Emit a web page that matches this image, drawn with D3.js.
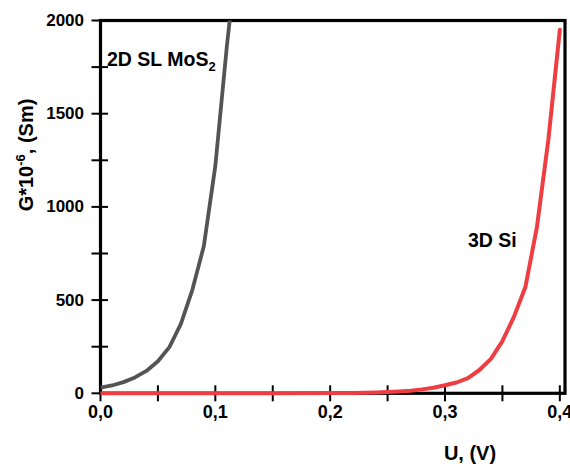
<!DOCTYPE html>
<html>
<head>
<meta charset="utf-8">
<script src="https://cdn.jsdelivr.net/npm/d3@7"></script>
<style>
  html, body { margin: 0; padding: 0; background: #fff; }
  svg { display: block; }
  text { font-family: "Liberation Sans", Arial, sans-serif; font-weight: bold; fill: #000; }
</style>
</head>
<body>
<svg id="chart" width="570" height="464"></svg>
<script>
// Conductance of 2D single-layer MoS2 vs bulk 3D Si as a function of bias
const mosVoltage = [0, 0.01, 0.02, 0.03, 0.04, 0.05, 0.06, 0.07, 0.08, 0.09, 0.10, 0.11, 0.12];
const mosConductance = [30, 42, 60, 85, 120, 172, 248, 372, 555, 790, 1220, 1860, 2420];

const siVoltage = [0, 0.05, 0.10, 0.15, 0.20, 0.21, 0.22, 0.23, 0.24, 0.25, 0.26, 0.27, 0.28, 0.29,
                   0.30, 0.31, 0.32, 0.33, 0.34, 0.35, 0.36, 0.37, 0.38, 0.39, 0.40];
const siConductance = [0, 0.1, 0.2, 0.4, 1, 1.5, 2, 3, 4.5, 7, 10, 14, 21, 30,
                       43, 58, 82, 125, 185, 280, 410, 570, 890, 1360, 1950];

const xTickValues = [0, 0.1, 0.2, 0.3, 0.4];
const xTickLabels = ["0,0", "0,1", "0,2", "0,3", "0,4"];
const xMinorTicks = [0.05, 0.15, 0.25, 0.35];
const yTickValues = [0, 500, 1000, 1500, 2000];
const yMinorTicks = [250, 750, 1250, 1750];

const svg = d3.select("#chart");

const x = d3.scaleLinear().domain([0, 0.4045]).range([100.5, 565]);
const y = d3.scaleLinear().domain([0, 2000]).range([393.3, 20.5]);

// clip for the curves
svg.append("defs").append("clipPath").attr("id", "plotClip")
  .append("rect")
  .attr("x", x(0)).attr("y", y(2000))
  .attr("width", x(0.4045) - x(0)).attr("height", y(0) - y(2000) + 4);

const line = d3.line().x(d => x(d[0])).y(d => y(d[1]));

// frame
svg.append("rect")
  .attr("x", x(0)).attr("y", y(2000))
  .attr("width", x(0.4045) - x(0)).attr("height", y(0) - y(2000))
  .attr("fill", "none").attr("stroke", "#000").attr("stroke-width", 3.2);

// x ticks (crossing the axis)
const xAll = xTickValues.concat(xMinorTicks);
svg.append("g").selectAll("line").data(xAll).join("line")
  .attr("x1", d => x(d)).attr("x2", d => x(d))
  .attr("y1", y(0) - 8).attr("y2", y(0) + 8)
  .attr("stroke", "#000").attr("stroke-width", 2);

svg.append("g").selectAll("text").data(xTickValues).join("text")
  .attr("x", d => x(d)).attr("y", 418)
  .attr("text-anchor", "middle")
  .style("font-size", "18px")
  .text((d, i) => xTickLabels[i]);

// y ticks (crossing the axis)
const yAll = yTickValues.concat(yMinorTicks);
svg.append("g").selectAll("line").data(yAll).join("line")
  .attr("x1", x(0) - 9).attr("x2", x(0) + 7.5)
  .attr("y1", d => y(d)).attr("y2", d => y(d))
  .attr("stroke", "#000").attr("stroke-width", 2);

svg.append("g").selectAll("text").data(yTickValues).join("text")
  .attr("x", 84).attr("y", d => y(d))
  .attr("text-anchor", "end")
  .attr("dominant-baseline", "central")
  .style("font-size", "17px")
  .text(d => d);

// curves
const curves = svg.append("g").attr("clip-path", "url(#plotClip)");
curves.append("path")
  .datum(mosVoltage.map((v, i) => [v, mosConductance[i]]))
  .attr("d", line)
  .attr("fill", "none").attr("stroke", "#545454").attr("stroke-width", 3.8)
  .attr("stroke-linejoin", "round");
curves.append("path")
  .datum(siVoltage.map((v, i) => [v, siConductance[i]]))
  .attr("d", line)
  .attr("fill", "none").attr("stroke", "#ef3e42").attr("stroke-width", 4)
  .attr("stroke-linejoin", "round").attr("stroke-linecap", "round");

// curve labels
const mosLabel = svg.append("text").attr("x", 107).attr("y", 66).style("font-size", "19.5px");
mosLabel.append("tspan").text("2D SL MoS");
mosLabel.append("tspan").attr("dy", 5).style("font-size", "13px").text("2");

svg.append("text").attr("x", 468).attr("y", 247).style("font-size", "19.5px").text("3D Si");

// axis titles
svg.append("text")
  .attr("x", 470).attr("y", 460)
  .attr("text-anchor", "middle")
  .style("font-size", "20px")
  .text("U, (V)");

const yTitle = svg.append("text")
  .attr("transform", "translate(33,155) rotate(-90)")
  .attr("text-anchor", "middle")
  .style("font-size", "20px");
yTitle.append("tspan").text("G*10");
yTitle.append("tspan").attr("dy", -8).style("font-size", "13px").text("-6");
yTitle.append("tspan").attr("dy", 8).text(", (Sm)");
</script>
</body>
</html>
